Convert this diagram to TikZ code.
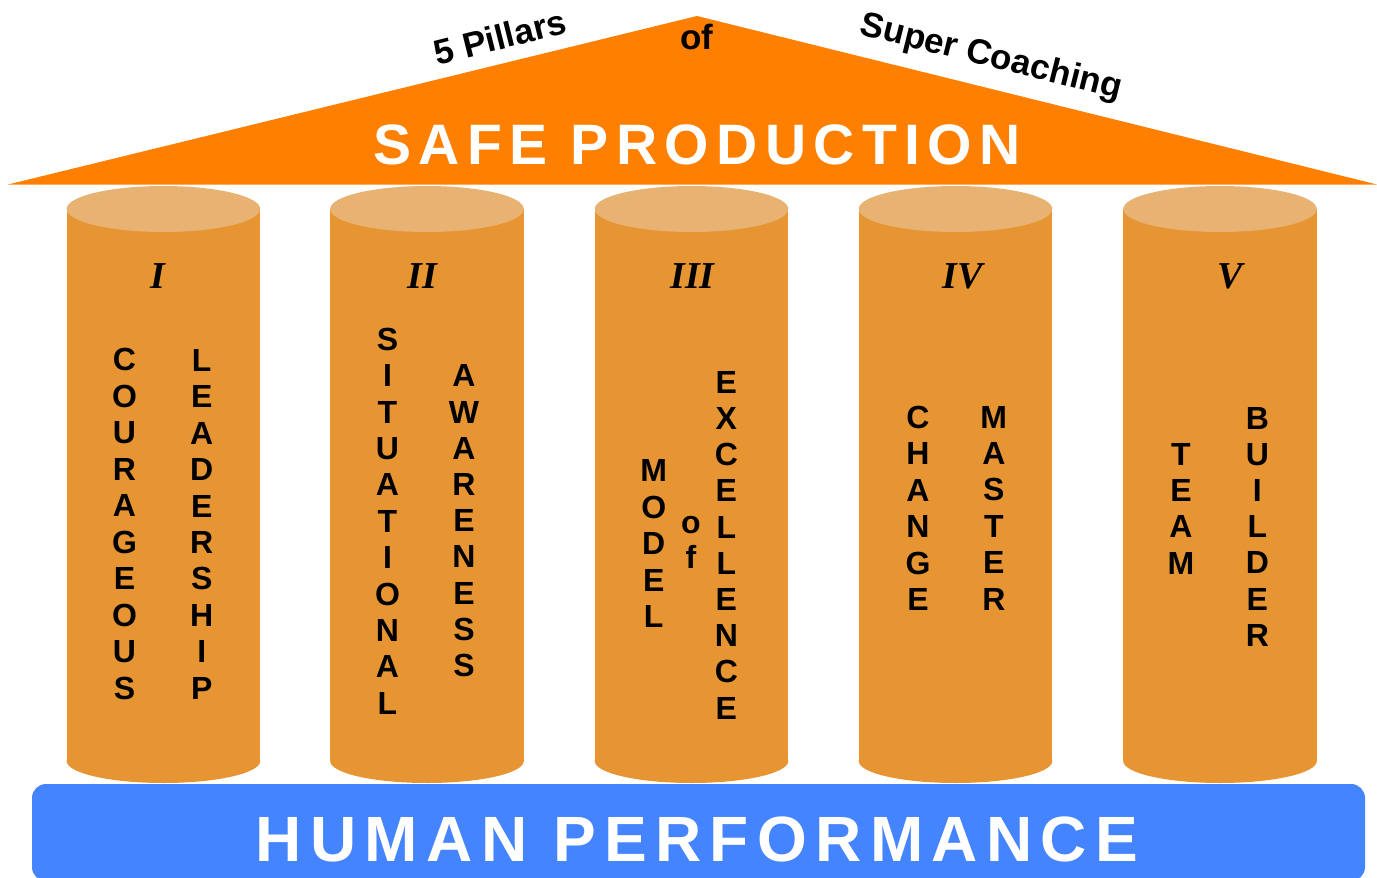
\documentclass[tikz,border=0pt]{standalone}
\usepackage{fontspec}
\setmainfont{Liberation Sans}
\newfontfamily\numeralfont{Liberation Serif}
\newfontfamily\bannerfont[LetterSpace=13]{Liberation Sans}
\definecolor{roofcol}{HTML}{FF7F00}
\definecolor{pillarbody}{HTML}{E79533}
\definecolor{pillartop}{HTML}{E8B273}
\definecolor{basebar}{HTML}{4584FF}
\tikzset{
  letter/.style={anchor=base, inner sep=0pt, font=\fontsize{32}{32}\selectfont\bfseries},
  numeral/.style={anchor=base, inner sep=0pt, font=\numeralfont\fontsize{38}{38}\selectfont\bfseries\itshape},
  banner/.style={anchor=base, inner sep=0pt, text=white, font=\bannerfont\bfseries},
  rooftext/.style={inner sep=0pt, font=\fontsize{35}{35}\selectfont\bfseries},
}
% one word written downwards, one letter per node
% #1 name, #2 x, #3 centre y of first letter, #4 pitch, #5 letters
\newcommand\pillarword[5]{%
  \foreach \ch [count=\k] in {#5}
    \node[letter] (#1-\k) at (#2, {#3+(\k-1)*#4+11.5}) {\ch};
}
\begin{document}
\begin{tikzpicture}[x=1pt,y=-1pt]
\useasboundingbox (0,0) rectangle (1377,878);

% roof
\fill[roofcol] (8,184.5) -- (697,16) -- (1377,184.5) -- cycle;
\node[banner, font=\bannerfont\bfseries\fontsize{57}{57}\selectfont] (safe) at (697,164) {SAFE PRODUCTION};
\node[rooftext, rotate=14] (pillars) at (500,37) {5 Pillars};
\node[rooftext] (of) at (697,37) {of};
\node[rooftext, rotate=-14] (coaching) at (991,58) {Super Coaching};

% pillars
\foreach \cx in {163.4,427,691.5,955.5,1220} {
  \fill[pillarbody] (\cx-96.8,209) rectangle (\cx+96.8,761);
  \fill[pillarbody] (\cx,761) ellipse [x radius=96.8, y radius=22];
  \fill[pillartop] (\cx,209) ellipse [x radius=96.8, y radius=23];
}

% pillar numerals
\node[numeral] (n1) at (158,288) {I};
\node[numeral] (n2) at (422.5,288) {II};
\node[numeral] (n3) at (692.5,288) {III};
\node[numeral] (n4) at (963,288) {IV};
\node[numeral] (n5) at (1230,288) {V};

% pillar words
\pillarword{courageous}{124.5}{359}{36.55}{C,O,U,R,A,G,E,O,U,S}
\pillarword{leadership}{201.7}{360}{36.4}{L,E,A,D,E,R,S,H,I,P}
\pillarword{situational}{387.5}{338.7}{36.4}{S,I,T,U,A,T,I,O,N,A,L}
\pillarword{awareness}{464}{375.3}{36.2}{A,W,A,R,E,N,E,S,S}
\pillarword{model}{653.7}{470}{36.5}{M,O,D,E,L}
\node[letter] (of-o) at (691,533) {o};
\node[letter] (of-f) at (691,568) {f};
\pillarword{excellence}{726.3}{381.7}{36.2}{E,X,C,E,L,L,E,N,C,E}
\pillarword{change}{918}{416.5}{36.5}{C,H,A,N,G,E}
\pillarword{master}{993.8}{416.5}{36.4}{M,A,S,T,E,R}
\pillarword{team}{1181}{453.7}{36.3}{T,E,A,M}
\pillarword{builder}{1257.3}{417.5}{36.2}{B,U,I,L,D,E,R}

% base
\fill[basebar, rounded corners=14] (32,784) rectangle (1365,881);
\node[banner, font=\bannerfont\bfseries\fontsize{64}{64}\selectfont] (human) at (697,861) {HUMAN PERFORMANCE};
\end{tikzpicture}
\end{document}
